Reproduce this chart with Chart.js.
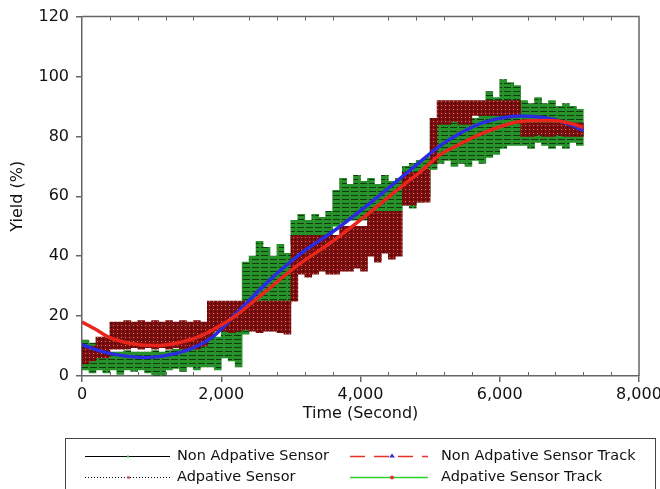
<!DOCTYPE html>
<html>
<head>
<meta charset="utf-8">
<script src="https://cdn.jsdelivr.net/npm/chart.js@4.4.1/dist/chart.umd.min.js"></script>
<style>
  html, body { margin: 0; padding: 0; background: #fff; }
</style>
</head>
<body>
<canvas id="chart" width="660" height="489"></canvas>
<script>
// time bins (centre of each 100 s bin)
const binTime = [50,150,250,350,450,550,650,750,850,950,
    1050,1150,1250,1350,1450,1550,1650,1750,1850,1950,
    2050,2150,2250,2350,2450,2550,2650,2750,2850,2950,
    3050,3150,3250,3350,3450,3550,3650,3750,3850,3950,
    4050,4150,4250,4350,4450,4550,4650,4750,4850,4950,
    5050,5150,5250,5350,5450,5550,5650,5750,5850,5950,
    6050,6150,6250,6350,6450,6550,6650,6750,6850,6950,
    7050,7150]

// green noisy band (low / high of each bin)
const greenLow = [2,1,2,1,2,0.5,2,1.5,2,1,
    0,0,2,2.5,1.5,3,2,3,3,2,
    6,5,3,14,22,24,24,24,24,24,
    44,45,45,45,45,46,50,51,52,52,
    52,53,54,54,54,55,57,56,58,60,
    69,71,72,70,71,70,72,71,73,74,
    76,77,77,77,76,78,77,76,77,76,
    78,77]
const greenHigh = [12,11,10,8.5,8,8,8.5,8,8,8,
    8.5,8,8.5,9,9,10,10,11,13,13,
    15,15,16,38,40,45,43,40,44,41,
    52,54,52,54,53,55,62,66,64,67,
    65,66,64,67,65,66,70,71,72,73,
    86,85,85,85,85,86,86,90,95,93,
    99,98,97,92,91,93,91,92,90,91,
    90,89]

// dark red noisy band (low / high of each bin)
const redLow = [4,5,6,6,9,9,9,9.5,9,9.5,
    9,9.5,9,9.5,9,9.5,9,10,13,15,
    15,14.5,15,15.5,15,14.5,15,15,14.5,14,
    25,34,33,34,35,34,34,35,35,36,
    35,40,38,41,39,40,57,57,58,58,
    71,84,84,85,84,84,87,87,87,87,
    87,87,87,80,80,80.5,80,80,80.5,80,
    80,80]
const redHigh = [10,10,13,13,18,18,18.5,18,18.5,18,
    18.5,18,18.5,18,18.5,18,18.5,18,25,25,
    25,25,25,25,25,25,25,25,25,25,
    47,47,47,47,47,47,47,50,50,50,
    50,55,55,55,55,55,68,68,68,69,
    86,92,92,92,92,92,92,92,92,92,
    92,92,92,84.5,84.5,84.5,84.5,84.5,84.5,84.5,
    84.5,84.5]

// smooth track curves
const redTrackTime = [0,200,400,800,1100,1400,1700,2000,2200,2600,3100,3600,4100,4600,4850,5150,5350,5750,6300,6700,7000,7200]
const redTrackYield = [18,15.5,12.8,10.5,10.2,11.2,13.3,17,20,27.5,37,45,54,63.5,68,74,76.5,81,85,85.3,84.5,83]
const blueTrackTime = [0,200,450,900,1400,1700,1900,2200,2650,3150,3650,4150,4650,5150,5350,5750,6300,6750,7000,7200]
const blueTrackYield = [10.5,8.8,7.3,6.2,7.8,10.5,13.5,20.5,31,41,49,58,67.5,77,80,84.5,86.8,85.8,84,82]

const legendLabels = ["Non Adpative Sensor", "Adpative Sensor", "Non Adpative Sensor Track", "Adpative Sensor Track"]

const font_name = "DejaVu Sans"

// striped fills to look like the dense sensor noise
function make_pattern(w, h, draw) {
    var c = document.createElement("canvas")
    c.width = w
    c.height = h
    draw(c.getContext("2d"))
    return c.getContext("2d").createPattern(c, "repeat")
}

var green_fill = make_pattern(9, 4, function (p) {
    p.fillStyle = "#27922a"
    p.fillRect(0, 0, 9, 4)
    p.fillStyle = "#113a11"
    p.fillRect(0, 3, 7, 1)
})
var red_fill = make_pattern(4, 4, function (p) {
    p.fillStyle = "#7e0d0d"
    p.fillRect(0, 0, 4, 4)
    p.fillStyle = "#c77a7a"
    p.fillRect(1, 1, 1, 1)
    p.fillStyle = "#2a0303"
    p.fillRect(3, 3, 1, 1)
})

function band(lows, highs) {
    return binTime.map(function (t, i) { return {x: t, y: [lows[i], highs[i]]} })
}
function curve(times, values) {
    return times.map(function (t, i) { return {x: t, y: values[i]} })
}

// box around the plot plus the small inward ticks
const frame_plugin = {
    id: "frame",
    afterDraw(chart) {
        var ctx = chart.ctx
        var a = chart.chartArea
        var xs = chart.scales.x
        ctx.save()
        ctx.strokeStyle = "#666"
        ctx.lineWidth = 1.5
        ctx.beginPath()
        ctx.moveTo(a.left, a.top)
        ctx.lineTo(a.right, a.top)
        ctx.lineTo(a.right, a.bottom)
        ctx.stroke()
        ctx.lineWidth = 1
        ctx.beginPath()
        for (var t = 400; t < 8000; t += 400) {
            if (t % 2000 == 0) continue
            var px = Math.round(xs.getPixelForValue(t)) + 0.5
            ctx.moveTo(px, a.bottom)
            ctx.lineTo(px, a.bottom - 4)
            ctx.moveTo(px, a.top)
            ctx.lineTo(px, a.top + 4)
        }
        ctx.stroke()
        ctx.restore()
    }
}

// legend box under the plot, two columns
const legend_plugin = {
    id: "boxlegend",
    afterDraw(chart) {
        var ctx = chart.ctx
        ctx.save()
        ctx.strokeStyle = "#444"
        ctx.lineWidth = 1
        ctx.strokeRect(65.5, 438.5, 590, 60)

        var rows = [456.5, 477.5]
        // column 1
        ctx.strokeStyle = "#000"
        ctx.lineWidth = 1
        ctx.beginPath()
        ctx.moveTo(85, rows[0]); ctx.lineTo(170, rows[0])
        ctx.stroke()
        ctx.fillStyle = "#3c3"
        ctx.fillRect(127, rows[0] - 1, 2, 2)
        ctx.setLineDash([1, 2])
        ctx.beginPath()
        ctx.moveTo(85, rows[1]); ctx.lineTo(170, rows[1])
        ctx.stroke()
        ctx.setLineDash([])
        ctx.fillStyle = "#b44"
        ctx.fillRect(127, rows[1] - 1, 3, 2)

        // column 2
        ctx.lineWidth = 1.5
        ctx.strokeStyle = "#e8302a"
        ctx.setLineDash([15, 9])
        ctx.beginPath()
        ctx.moveTo(350, rows[0]); ctx.lineTo(428, rows[0])
        ctx.stroke()
        ctx.setLineDash([])
        ctx.fillStyle = "#33c"
        ctx.beginPath()
        ctx.moveTo(392, rows[0] - 3); ctx.lineTo(395, rows[0] + 1); ctx.lineTo(389, rows[0] + 1)
        ctx.fill()
        ctx.strokeStyle = "#2ad42a"
        ctx.beginPath()
        ctx.moveTo(350, rows[1]); ctx.lineTo(428, rows[1])
        ctx.stroke()
        ctx.fillStyle = "#d33"
        ctx.beginPath()
        ctx.arc(392, rows[1], 2, 0, Math.PI * 2)
        ctx.fill()

        ctx.fillStyle = "#111"
        ctx.font = "14.5px '" + font_name + "'"
        ctx.textBaseline = "middle"
        ctx.fillText(legendLabels[0], 177, rows[0])
        ctx.fillText(legendLabels[1], 177, rows[1])
        ctx.fillText(legendLabels[2], 441, rows[0])
        ctx.fillText(legendLabels[3], 441, rows[1])
        ctx.restore()
    }
}

var tick_font = {family: font_name, size: 16}

var chart = new Chart(document.getElementById("chart"), {
    type: "line",
    data: {
        datasets: [
            {
                label: legendLabels[2],
                data: curve(redTrackTime, redTrackYield),
                borderColor: "#e8261c",
                borderWidth: 3.5,
                pointRadius: 0,
                cubicInterpolationMode: "monotone",
                order: 0
            },
            {
                label: legendLabels[3],
                data: curve(blueTrackTime, blueTrackYield),
                borderColor: "#2b2be0",
                borderWidth: 3.5,
                pointRadius: 0,
                cubicInterpolationMode: "monotone",
                order: 1
            },
            {
                type: "bar",
                label: legendLabels[1],
                data: band(redLow, redHigh),
                backgroundColor: red_fill,
                borderWidth: 0,
                grouped: false,
                barPercentage: 1,
                categoryPercentage: 1,
                order: 2
            },
            {
                type: "bar",
                label: legendLabels[0],
                data: band(greenLow, greenHigh),
                backgroundColor: green_fill,
                borderWidth: 0,
                grouped: false,
                barPercentage: 1,
                categoryPercentage: 1,
                order: 3
            }
        ]
    },
    options: {
        responsive: false,
        animation: false,
        events: [],
        layout: {padding: {left: 0, right: 21, top: 15, bottom: 0}},
        plugins: {
            legend: {display: false},
            tooltip: {enabled: false}
        },
        scales: {
            x: {
                type: "linear",
                min: 0,
                max: 8000,
                offset: false,
                ticks: {stepSize: 2000, font: tick_font, color: "#111", padding: 3, maxRotation: 0, autoSkip: false},
                grid: {drawOnChartArea: false, tickLength: 6, color: "#666", lineWidth: 1.5, offset: false},
                border: {display: true, color: "#666", width: 1.5},
                title: {display: true, text: "Time (Second)", font: tick_font, color: "#111", padding: {top: 0, bottom: 66}},
                afterFit(scale) {
                    scale.height = 113
                    scale.paddingLeft = 0
                    scale.paddingRight = 0
                }
            },
            y: {
                min: 0,
                max: 120,
                ticks: {stepSize: 20, font: tick_font, color: "#111", padding: 7},
                grid: {drawOnChartArea: false, tickLength: 6, color: "#666", lineWidth: 1.5},
                border: {display: true, color: "#666", width: 1.5},
                title: {display: true, text: "Yield (%)", font: tick_font, color: "#111", padding: {top: 8, bottom: 0}},
                afterFit(scale) {
                    scale.width = 82
                }
            }
        }
    },
    plugins: [frame_plugin, legend_plugin]
});
</script>
</body>
</html>
